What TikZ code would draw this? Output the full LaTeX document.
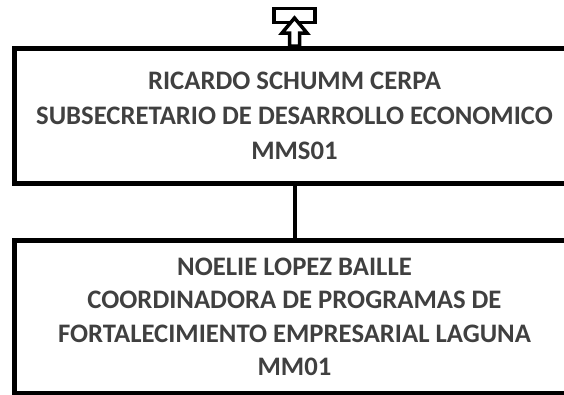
\documentclass[tikz,border=0pt]{standalone}
\usepackage{fontspec}
\setmainfont{Carlito}
\usepackage{tikz}
\usetikzlibrary{positioning}
\definecolor{namegray}{HTML}{404040}

\begin{document}
\begin{tikzpicture}[x=1pt, y=-1pt,
  box/.style={draw, line width=5pt, minimum width=560pt, inner sep=0pt,
    align=center, text=namegray},
  link/.style={line width=4pt},
  icon/.style={line width=3.5pt, line join=miter}]
  \useasboundingbox (0,0) rectangle (564,394);
  \clip (0,0) rectangle (564,394);
  \node[box, minimum height=135pt,
    font=\bfseries\fontsize{26.7}{35}\selectfont] (jefe) at (294.5,115.5)
    {RICARDO SCHUMM CERPA\\ SUBSECRETARIO DE DESARROLLO ECONOMICO\\ MMS01};
  \node[box, minimum height=152.5pt,
    font=\bfseries\fontsize{26.7}{33.5}\selectfont] (coord) at (294.5,316.75)
    {NOELIE LOPEZ BAILLE\\ COORDINADORA DE PROGRAMAS DE\\
     FORTALECIMIENTO EMPRESARIAL LAGUNA\\ MM01};
  \draw[link] (jefe) -- (coord);
  % icono de nivel superior
  \draw[icon] (274,8.5) rectangle (315,22.5);
  \draw[icon, fill=white] (294.5,18) -- (307,33) -- (299.5,33) -- (299.5,46)
    -- (289.5,46) -- (289.5,33) -- (282,33) -- cycle;
\end{tikzpicture}
\end{document}
